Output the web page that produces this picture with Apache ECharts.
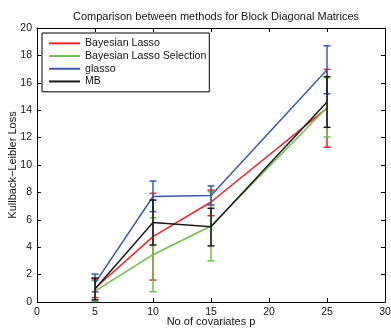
<!DOCTYPE html>
<html>
<head>
<meta charset="utf-8">
<script src="https://cdn.jsdelivr.net/npm/echarts@6/dist/echarts.min.js"></script>
<style>html,body{margin:0;padding:0;background:#fff}#c{width:391px;height:331px}</style>
</head>
<body>
<div id="c"></div>
<script>
const titleText = 'Comparison between methods for Block Diagonal Matrices';
const xName = 'No of covariates p';
const yName = 'Kullback\u2212Leibler Loss';
const pValues = [5, 10, 15, 25];
const seriesNames = ['Bayesian Lasso', 'Bayesian Lasso Selection', 'glasso', 'MB'];
const blMean = [1.0, 4.77, 7.3, 14.15];
const blLow = [0.32, 1.6, 6.3, 11.3];
const blHigh = [1.68, 7.93, 8.17, 16.98];
const blsMean = [0.8, 3.45, 5.55, 14.2];
const blsLow = [0.05, 0.75, 3.0, 12.04];
const blsHigh = [1.55, 6.15, 8.05, 16.37];
const glMean = [1.38, 7.7, 7.78, 16.95];
const glLow = [0.74, 6.6, 7.08, 15.2];
const glHigh = [2.04, 8.83, 8.47, 18.7];
const mbMean = [0.95, 5.8, 5.5, 14.6];
const mbLow = [0.15, 4.16, 4.1, 12.75];
const mbHigh = [1.75, 7.44, 6.84, 16.45];
const colors = ['#e8262a', '#6cc04a', '#3a5aa8', '#1a1a1a'];

const means = [blMean, blsMean, glMean, mbMean];
const lows = [blLow, blsLow, glLow, mbLow];
const highs = [blHigh, blsHigh, glHigh, mbHigh];

const FONT = 'Liberation Sans';
const series = [];
seriesNames.forEach((name, i) => {
  series.push({
    name: name, type: 'line', symbol: 'none', showSymbol: false, z: 2 + i,
    data: pValues.map((p, k) => [p, means[i][k]]),
    lineStyle: {color: colors[i], width: 1.5}, itemStyle: {color: colors[i]},
    xAxisIndex: 0, yAxisIndex: 0, animation: false
  });
  series.push({
    name: name, type: 'custom', z: 2 + i,
    data: pValues.map((p, k) => [p, lows[i][k], highs[i][k]]),
    renderItem: function (params, api) {
      const x = api.value(0);
      const lo = api.coord([x, api.value(1)]);
      const hi = api.coord([x, api.value(2)]);
      const w = 3.5;
      const st = {stroke: colors[i], lineWidth: 1.5};
      return {type: 'group', children: [
        {type: 'line', shape: {x1: lo[0], y1: lo[1], x2: hi[0], y2: hi[1]}, style: st},
        {type: 'line', shape: {x1: lo[0] - w, y1: lo[1], x2: lo[0] + w, y2: lo[1]}, style: st},
        {type: 'line', shape: {x1: hi[0] - w, y1: hi[1], x2: hi[0] + w, y2: hi[1]}, style: st}
      ]};
    },
    xAxisIndex: 0, yAxisIndex: 0, animation: false
  });
});

const axisCommon = {
  axisLine: {show: true, onZero: false, lineStyle: {color: '#000', width: 1}},
  axisTick: {show: true, inside: true, length: 4, lineStyle: {color: '#000'}},
  splitLine: {show: false}
};

const chart = echarts.init(document.getElementById('c'), null, {renderer: 'canvas'});
chart.setOption({
  animation: false,
  backgroundColor: '#fff',
  title: {text: titleText, left: 211, top: 6, textAlign: 'center',
    textStyle: {fontFamily: FONT, fontSize: 11, fontWeight: 'normal', color: '#111'}},
  grid: {left: 37, right: 6, top: 28, bottom: 29, containLabel: false, outerBoundsMode: 'none'},
  legend: {
    data: seriesNames.map((n, i) => ({name: n, icon: 'rect', itemStyle: {color: colors[i]}})),
    orient: 'vertical', left: 42, top: 33,
    itemWidth: 31, itemHeight: 2, itemGap: 0,
    padding: [4, 3, 4, 7],
    borderColor: '#000', borderWidth: 1, backgroundColor: '#fff',
    textStyle: {fontFamily: FONT, fontSize: 10.6, color: '#111', lineHeight: 12.7},
    selectedMode: false
  },
  xAxis: [
    Object.assign({type: 'value', min: 0, max: 30, interval: 5, position: 'bottom',
      name: xName, nameLocation: 'middle', nameGap: 14, nameMoveOverlap: false,
      nameTextStyle: {fontFamily: FONT, fontSize: 11, color: '#111'},
      axisLabel: {fontFamily: FONT, fontSize: 10.5, color: '#111', margin: 5}}, axisCommon),
    Object.assign({type: 'value', min: 0, max: 30, interval: 5, position: 'top',
      axisLabel: {show: false}}, axisCommon)
  ],
  yAxis: [
    Object.assign({type: 'value', min: 0, max: 20, interval: 2, position: 'left',
      name: yName, nameLocation: 'middle', nameGap: 19, nameMoveOverlap: false,
      nameTextStyle: {fontFamily: FONT, fontSize: 11, color: '#111'},
      axisLabel: {fontFamily: FONT, fontSize: 10.5, color: '#111', margin: 5}}, axisCommon),
    Object.assign({type: 'value', min: 0, max: 20, interval: 2, position: 'right',
      axisLabel: {show: false}}, axisCommon)
  ],
  series: series
});
</script>
</body>
</html>
